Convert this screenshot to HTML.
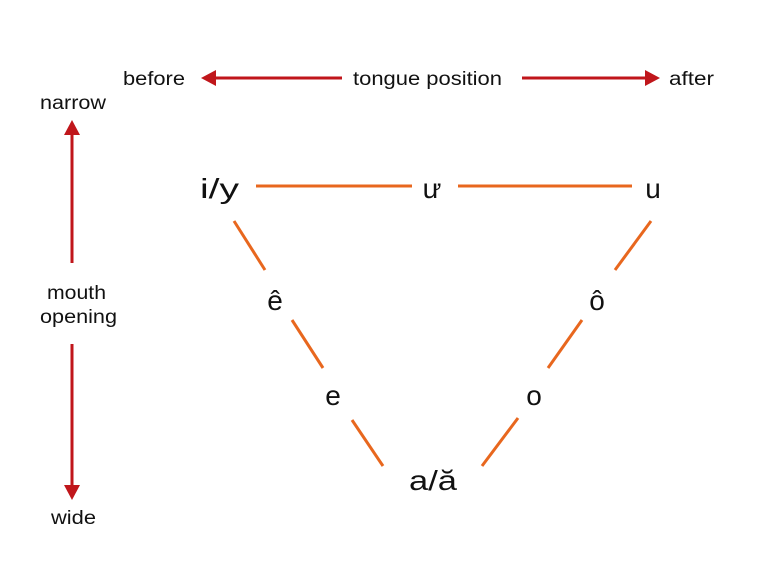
<!DOCTYPE html>
<html><head><meta charset="utf-8"><style>
html,body{margin:0;padding:0;background:#fff;}
svg{display:block;}
text{font-family:"Liberation Sans","DejaVu Sans",sans-serif;fill:#111;}
</style></head><body>
<svg width="768" height="569" viewBox="0 0 768 569">
<g fill="#c0161b" stroke="#c0161b">
<line x1="342" y1="78" x2="212" y2="78" stroke-width="3"/>
<polygon points="201,78 216,70 216,86" stroke="none"/>
<line x1="522" y1="78" x2="648" y2="78" stroke-width="3"/>
<polygon points="660,78 645,70 645,86" stroke="none"/>
<line x1="72" y1="263" x2="72" y2="132" stroke-width="3"/>
<polygon points="72,120 64,135 80,135" stroke="none"/>
<line x1="72" y1="344" x2="72" y2="488" stroke-width="3"/>
<polygon points="72,500 64,485 80,485" stroke="none"/>
</g>
<g font-size="19" lengthAdjust="spacingAndGlyphs">
<text x="123" y="85" textLength="62" lengthAdjust="spacingAndGlyphs">before</text>
<text x="353" y="85" textLength="149" lengthAdjust="spacingAndGlyphs">tongue position</text>
<text x="669" y="85" textLength="45" lengthAdjust="spacingAndGlyphs">after</text>
<text x="40" y="109" textLength="66" lengthAdjust="spacingAndGlyphs">narrow</text>
<text x="47" y="299" textLength="59" lengthAdjust="spacingAndGlyphs">mouth</text>
<text x="40" y="323" textLength="77" lengthAdjust="spacingAndGlyphs">opening</text>
<text x="51" y="524" textLength="45" lengthAdjust="spacingAndGlyphs">wide</text>
</g>
<g stroke="#e8671e" stroke-width="3">
<line x1="256" y1="186" x2="412" y2="186"/>
<line x1="458" y1="186" x2="632" y2="186"/>
<line x1="234" y1="221" x2="265" y2="270"/>
<line x1="292" y1="320" x2="323" y2="368"/>
<line x1="352" y1="420" x2="383" y2="466"/>
<line x1="651" y1="221" x2="615" y2="270"/>
<line x1="582" y1="320" x2="548" y2="368"/>
<line x1="518" y1="418" x2="482" y2="466"/>
</g>
<g font-size="28">
<text x="200" y="198" textLength="39" lengthAdjust="spacingAndGlyphs">i/y</text>
<text x="432" y="198" text-anchor="middle">ư</text>
<text x="653" y="198" text-anchor="middle">u</text>
<text x="275" y="310" text-anchor="middle">ê</text>
<text x="597" y="310" text-anchor="middle">ô</text>
<text x="333" y="405" text-anchor="middle">e</text>
<text x="534" y="405" text-anchor="middle">o</text>
<text x="409" y="490" textLength="48" lengthAdjust="spacingAndGlyphs">a/ă</text>
</g>
</svg>
</body></html>
